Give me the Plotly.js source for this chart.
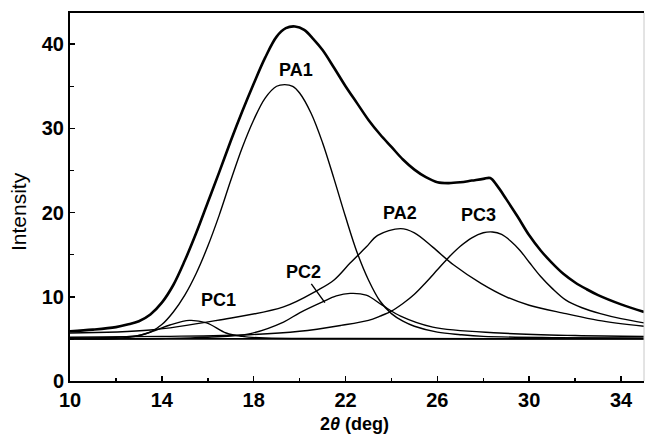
<!DOCTYPE html>
<html>
<head>
<meta charset="utf-8">
<script src="https://cdn.plot.ly/plotly-3.0.1.min.js"></script>
<style>html,body{margin:0;padding:0;background:#fff;}#chart{width:645px;height:441px;}</style>
</head>
<body>
<div id="chart"></div>
<script>
// Observed total profile
var totalX = [10, 11, 12, 12.5, 13, 13.5, 14, 14.5, 15, 15.5, 16, 16.5, 17, 17.5, 18, 18.5, 19, 19.4, 19.8, 20.2, 20.6, 21, 21.5, 22, 22.5, 23, 23.5, 24, 24.5, 25, 25.5, 26, 26.5, 27, 27.5, 28, 28.3, 28.6, 29, 29.5, 30, 30.5, 31, 31.5, 32, 32.5, 33, 34, 35];
var totalY = [5.9, 6.1, 6.4, 6.7, 7.1, 7.9, 9.3, 11.4, 14.3, 17.6, 21.2, 24.8, 28.5, 32.0, 35.3, 38.4, 40.9, 41.9, 42.1, 41.7, 40.6, 39.3, 37.2, 35.0, 33.0, 31.0, 29.3, 27.8, 26.3, 25.1, 24.2, 23.6, 23.5, 23.6, 23.8, 24.0, 24.1, 23.2, 21.6, 19.5, 17.3, 15.5, 14.0, 12.7, 11.7, 10.9, 10.2, 9.1, 8.2];

// Component PA1
var pa1X = [10, 12, 13, 13.5, 14, 14.5, 15, 15.5, 16, 16.5, 17, 17.5, 18, 18.5, 19, 19.35, 19.7, 20, 20.5, 21, 21.5, 22, 22.5, 23, 23.5, 24, 24.5, 25, 26, 27, 28, 31, 35];
var pa1Y = [5.1, 5.2, 5.4, 5.8, 6.7, 8.2, 10.2, 12.8, 16.0, 19.7, 23.8, 27.7, 31.0, 33.6, 35.0, 35.2, 35.0, 34.2, 31.8, 28.3, 24.0, 19.5, 15.3, 12.0, 9.5, 8.0, 7.1, 6.5, 5.8, 5.5, 5.3, 5.15, 5.1];

// Component PC1
var pc1X = [10, 12, 13, 13.7, 14.35, 15.2, 15.95, 16.8, 17.5, 18.5, 22, 35];
var pc1Y = [5.0, 5.05, 5.4, 6.0, 6.65, 7.2, 6.9, 5.7, 5.3, 5.1, 5.05, 5.0];

// Component PC2
var pc2X = [10, 14, 16, 17.8, 19.3, 20.0, 21.0, 21.6, 22.2, 22.9, 23.6, 24.4, 25.8, 28.7, 32, 35];
var pc2Y = [5.0, 5.05, 5.2, 5.6, 7.0, 8.1, 9.4, 10.1, 10.4, 10.2, 9.0, 7.7, 6.4, 5.7, 5.4, 5.3];

// Component PA2
var pa2X = [10, 13.5, 16.4, 19.3, 20.8, 21.5, 22.2, 22.9, 23.4, 24.4, 25.0, 25.8, 26.7, 27.9, 29.0, 30.0, 31.6, 33.0, 35];
var pa2Y = [5.7, 6.05, 7.2, 8.8, 10.8, 12.0, 14.0, 15.9, 17.3, 18.1, 17.6, 15.9, 13.8, 11.6, 10.0, 9.0, 8.0, 7.2, 6.5];

// Component PC3
var pc3X = [10, 14, 17.8, 20, 21.8, 23, 23.5, 24, 24.5, 25, 25.5, 26, 26.5, 27, 27.5, 28, 28.4, 28.8, 29.2, 29.6, 30, 30.5, 31, 31.6, 32.3, 33.1, 34, 35];
var pc3Y = [5.2, 5.3, 5.5, 5.9, 6.6, 7.2, 7.7, 8.3, 9.2, 10.3, 11.7, 13.2, 14.7, 16.0, 17.0, 17.6, 17.7, 17.4, 16.6, 15.5, 14.1, 12.4, 11.0, 9.6, 8.7, 8.0, 7.4, 6.9];

// Background line
var baseX = [10, 35];
var baseY = [5.0, 5.0];

// Peak labels
var labelText = ["PA1", "PC1", "PC2", "PA2", "PC3"];
var labelX = [19.84, 16.45, 20.15, 24.37, 27.77];
var labelY = [36.9, 9.6, 12.9, 19.95, 19.7];

var xTicks = [10, 14, 18, 22, 26, 30, 34];
var yTicks = [0, 10, 20, 30, 40];

function line(x, y, w) {
  return {x: x, y: y, type: 'scatter', mode: 'lines',
          line: {color: '#000', width: w, shape: 'spline', smoothing: 1},
          hoverinfo: 'skip', showlegend: false};
}

var traces = [
  line(baseX, baseY, 1.6),
  line(pc1X, pc1Y, 1.4),
  line(pc2X, pc2Y, 1.4),
  line(pa2X, pa2Y, 1.4),
  line(pc3X, pc3Y, 1.4),
  line(pa1X, pa1Y, 1.4),
  line(totalX, totalY, 2.6)
];

var font = "'Liberation Sans', Arial, sans-serif";
var annotations = [];
for (var i = 0; i < labelText.length; i++) {
  var a = {x: labelX[i], y: labelY[i], xref: 'x', yref: 'y', text: '<b>' + labelText[i] + '</b>',
           showarrow: false, font: {family: font, size: 18, color: '#000'}};
  if (labelText[i] === 'PC2') {
    a = {x: 21.1, y: 9.3, ax: labelX[i], ay: labelY[i], axref: 'x', ayref: 'y', xref: 'x', yref: 'y',
         text: '<b>PC2</b>', showarrow: true, arrowhead: 0, arrowwidth: 1.4, arrowcolor: '#000',
         font: {family: font, size: 18, color: '#000'}};
  }
  annotations.push(a);
}
annotations.push({xref: 'paper', yref: 'paper', x: -0.09, y: 0.46, xanchor: 'center', yanchor: 'middle',
                  text: 'Intensity', textangle: -90,
                  showarrow: false, font: {family: font, size: 21, color: '#000'}});
annotations.push({xref: 'paper', yref: 'paper', x: 0.495, y: -0.118, xanchor: 'center', yanchor: 'middle',
                  text: '<b>2<i>θ</i> (deg)</b>',
                  showarrow: false, font: {family: font, size: 18, color: '#000'}});

var layout = {
  width: 645, height: 441,
  margin: {l: 70, r: 1, t: 13, b: 60},
  paper_bgcolor: '#fff', plot_bgcolor: '#fff',
  font: {family: font, color: '#000'},
  showlegend: false,
  xaxis: {range: [10, 35], tickvals: xTicks, ticktext: xTicks.map(function(v){return '<b>' + v + '</b>';}),
          ticks: 'inside', ticklen: 5, tickwidth: 1.5, tickcolor: '#000',
          minor: {dtick: 2, ticks: 'inside', ticklen: 3, tickcolor: '#000'},
          showline: true, linewidth: 2, linecolor: '#000', mirror: true, showgrid: false, zeroline: false,
          tickfont: {family: font, size: 20, color: '#000'}},
  yaxis: {range: [0, 43.7], tickvals: yTicks, ticktext: yTicks.map(function(v){return '<b>' + v + '</b>';}),
          ticks: 'inside', ticklen: 5, tickwidth: 1.5, tickcolor: '#000',
          minor: {dtick: 5, ticks: 'inside', ticklen: 4, tickcolor: '#000'},
          showline: true, linewidth: 2, linecolor: '#000', showgrid: false, zeroline: false,
          tickfont: {family: font, size: 20, color: '#000'}},
  shapes: [{type: 'line', xref: 'paper', yref: 'paper', x0: 1, x1: 1, y0: 0, y1: 1,
            line: {color: '#c8c8c8', width: 1}}],
  annotations: annotations
};

Plotly.newPlot('chart', traces, layout, {staticPlot: true, displayModeBar: false});
</script>
</body>
</html>
